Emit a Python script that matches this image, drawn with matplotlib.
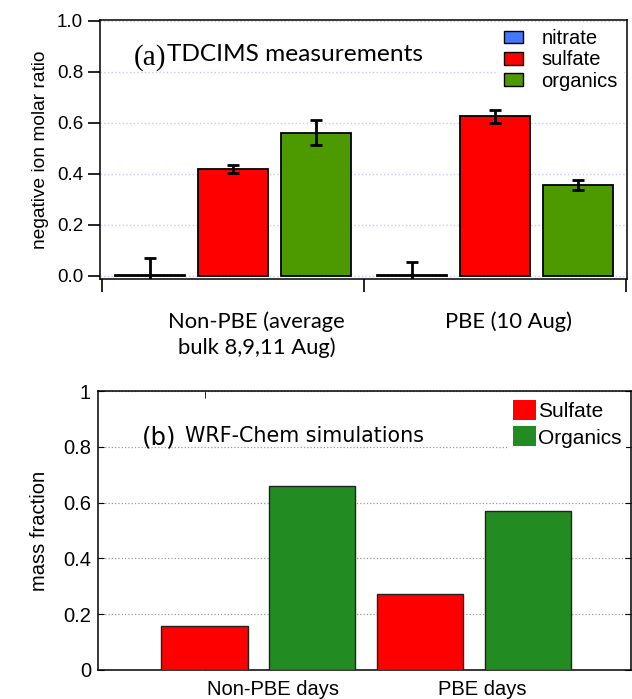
import numpy as np
import matplotlib
matplotlib.use('Agg')
import matplotlib.pyplot as plt
from matplotlib.patches import Patch

# (a) TDCIMS measurements
groups_a = ['Non-PBE (average\nbulk 8,9,11 Aug)', 'PBE (10 Aug)']
species_a = ['nitrate', 'sulfate', 'organics']
nitrate = [0.005, 0.005]
sulfate = [0.42, 0.625]
organics = [0.562, 0.355]
nitrate_err = [0.065, 0.048]
sulfate_err = [0.015, 0.025]
organics_err = [0.05, 0.02]
yticks_a = [0.0, 0.2, 0.4, 0.6, 0.8, 1.0]

# (b) WRF-Chem simulations
groups_b = ['Non-PBE days', 'PBE days']
species_b = ['Sulfate', 'Organics']
sulfate_b = [0.158, 0.272]
organics_b = [0.66, 0.57]
yticks_b = [0, 0.2, 0.4, 0.6, 0.8, 1]

colors_a = ['#4178ff', '#ff0000', '#4c9900']
colors_b = ['#ff0000', '#228b22']

fig = plt.figure(figsize=(6.32, 6.99), dpi=100)

# ---------- top panel ----------
ax1 = fig.add_axes([0.158, 0.6009, 0.834, 0.3705])
x = np.arange(len(groups_a))
w = 0.267
sp = 0.316
vals = [nitrate, sulfate, organics]
errs = [nitrate_err, sulfate_err, organics_err]
for i in range(3):
    ax1.bar(x + (i - 1) * sp, vals[i], w, color=colors_a[i], edgecolor='black',
            linewidth=1.3, zorder=3)
    ax1.errorbar(x + (i - 1) * sp, vals[i], yerr=errs[i], fmt='none', ecolor='black',
                 elinewidth=2, capsize=4, capthick=2, zorder=4)

ax1.set_ylim(-0.012, 1.003)
ax1.set_xlim(-0.507, 1.502)
ax1.set_yticks(yticks_a)
ax1.set_yticklabels(['%.1f' % v for v in yticks_a], fontsize=13.5, family='Liberation Sans')
ax1.set_xticks([-0.5, 0.5, 1.5])
ax1.set_xticklabels([])
ax1.tick_params(axis='both', direction='out', length=9, width=1.2)
ax1.tick_params(axis='y', pad=3)
ax1.yaxis.grid(True, linestyle=':', color='#c8c8ff', linewidth=1, zorder=0)
ax1.set_axisbelow(True)
for s in ax1.spines.values():
    s.set_linewidth(1.1)
ax1.set_ylabel('negative ion molar ratio', fontsize=13.8, family='Liberation Sans', labelpad=6)

label_pos = [0.09, 1.05]
for xp, lab in zip(label_pos, groups_a):
    ax1.text(xp, -0.125, lab, transform=ax1.get_xaxis_transform(), ha='center', va='top',
             fontsize=15.8, family='Lato', linespacing=1.3)

ax1.text(0.064, 0.855, '(a)', transform=ax1.transAxes, fontsize=21,
         family='Liberation Serif', va='center')
ax1.text(0.127, 0.865, 'TDCIMS measurements', transform=ax1.transAxes, fontsize=17.6,
         family='Lato', va='center')

handles_a = [Patch(facecolor=c, edgecolor='black', linewidth=1) for c in colors_a]
leg = ax1.legend(handles_a, species_a, loc='upper right', bbox_to_anchor=(1.0, 1.0),
                 frameon=True, fancybox=False, edgecolor='none', framealpha=1,
                 prop={'family': 'Liberation Sans', 'size': 14.5},
                 handlelength=0.95, handleheight=0.6, handletextpad=0.9,
                 labelspacing=0.12, borderpad=0.3, borderaxespad=0.15)

# ---------- bottom panel ----------
ax2 = fig.add_axes([0.155, 0.0415, 0.843, 0.399])
xb = np.arange(len(groups_b))
wb = 0.4
ax2.bar(xb - 0.25, sulfate_b, wb, color=colors_b[0], edgecolor='#222222', linewidth=1, zorder=3)
ax2.bar(xb + 0.25, organics_b, wb, color=colors_b[1], edgecolor='#222222', linewidth=1, zorder=3)
ax2.set_xlim(-0.745, 1.729)
ax2.set_ylim(0, 1)
ax2.set_yticks(yticks_b)
ax2.set_yticklabels([('%g' % v) for v in yticks_b], fontsize=14.5, family='Liberation Sans')
ax2.set_xticks([0.07, 1.04])
ax2.set_xticklabels(groups_b, fontsize=14.5, family='Liberation Sans')
ax2.set_xticks([-0.25], minor=True)
ax2.tick_params(axis='x', which='major', length=0, pad=7)
ax2.tick_params(axis='x', which='minor', direction='in', length=5, top=True)
ax2.tick_params(axis='y', direction='in', length=4, right=True, pad=5)
ax2.yaxis.grid(True, linestyle=':', color='#999999', linewidth=0.9, zorder=0)
ax2.set_axisbelow(True)
for s in ax2.spines.values():
    s.set_linewidth(1.1)
ax2.set_ylabel('mass fraction', fontsize=14.5, family='Liberation Sans', labelpad=10)

ax2.text(0.082, 0.835, '(b)', transform=ax2.transAxes, fontsize=17.5,
         family='DejaVu Sans', va='center')
ax2.text(0.163, 0.838, 'WRF-Chem simulations', transform=ax2.transAxes, fontsize=14.9,
         family='DejaVu Sans', va='center')

handles_b = [Patch(facecolor=c, edgecolor='none') for c in colors_b]
ax2.legend(handles_b, species_b, loc='upper right', bbox_to_anchor=(0.995, 0.99),
           frameon=True, fancybox=False, edgecolor='none', framealpha=1,
           prop={'family': 'Liberation Sans', 'size': 15},
           handlelength=1.1, handleheight=1.1, handletextpad=0.1,
           labelspacing=0.25, borderpad=0.2, borderaxespad=0.1)

fig.savefig('out.png', dpi=100)
